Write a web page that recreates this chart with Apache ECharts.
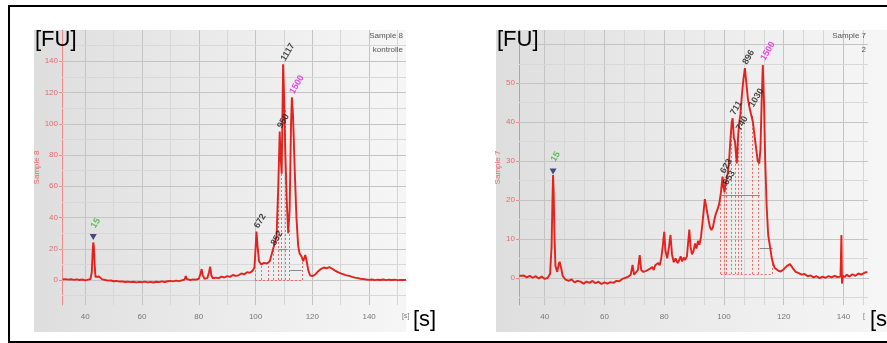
<!DOCTYPE html>
<html>
<head>
<meta charset="utf-8">
<script src="https://cdn.jsdelivr.net/npm/echarts@6/dist/echarts.min.js"></script>
<style>
  html, body { margin: 0; padding: 0; background: #fff; }
  #chart { width: 887px; height: 343px; }
</style>
</head>
<body>
<div id="chart"></div>
<script>
// Sample 8 (kontrolle) trace: [time s, FU]
const sample8Trace = [
  [32,0.3],[33,0.6],[34,0.2],[35,0.5],[36,0.1],[37,0.4],[38,0.0],[39,0.3],[40,-0.2],[41,0.2],
  [41.8,0.5],[42.3,5],[42.6,18],[42.8,24],[43.0,22],[43.3,10],[43.6,2],[44.2,1.2],[44.8,2.2],[45.4,1.0],
  [46,0.4],[47,0.0],[48,-0.4],[49,-0.3],[50,-0.8],[51,-0.6],[52,-1.0],[53,-0.9],[54,-1.3],[55,-1.0],
  [56,-1.4],[57,-1.1],[58,-1.5],[59,-1.2],[60,-1.4],[61,-1.0],[62,-1.5],[63,-1.2],[64,-1.6],[65,-1.1],
  [66,-1.4],[67,-0.9],[68,-1.3],[69,-0.8],[70,-0.6],[71,-0.9],[72,-0.4],[73,-0.7],[74,-0.2],[75,0.3],
  [75.4,2.5],[75.8,0.6],[76.5,0.3],[77,0.0],[78,0.4],[79,0.2],[80,0.8],[80.6,4],[81.0,7],[81.4,3],
  [82,0.8],[83,1.2],[83.6,5],[84.0,8.5],[84.4,3],[85,1.0],[86,1.5],[87,1.2],[88,2.2],[89,1.6],
  [90,2.5],[91,2.0],[92,3.2],[93,2.6],[94,3.0],[95,4.2],[96,3.6],[97,5.0],[98,4.6],[99,6.0],
  [99.6,8],[100.0,20],[100.3,31],[100.7,22],[101.2,12],[102,10],[103,11],[104,10.5],[105,12],[105.6,16],
  [106.2,20],[106.8,19],[107.4,28],[108.0,60],[108.5,95],[108.8,80],[109.2,68],[109.5,110],[109.7,138],[110.0,120],
  [110.5,80],[111.0,50],[111.5,30],[112.0,45],[112.5,100],[112.8,117],[113.2,105],[113.8,70],[114.4,40],[115.0,22],
  [115.5,17],[116.2,15],[116.8,12],[117.5,16],[118.0,12],[118.6,6],[119.2,3],[120,2.5],[121,3.5],[122,5.5],
  [123,7],[124,8],[125,7.5],[126,8.2],[127,7.2],[127.5,8.0],[128,6],[129,5],[130,4.2],[131,3.6],
  [132,3],[133,2.6],[134,2],[135,1.5],[136,1.2],[137,0.8],[138,0.6],[139,0.3],[140,0.1],[141,0.3],
  [142,-0.1],[143,0.2],[144,0],[145,0.3],[146,-0.1],[147,0.2],[148,0.0],[149,0.2],[150,-0.1],[151,0.1],
  [152,0.0],[153,0.1]
];

// Sample 7 trace: [time s, FU]
const sample7Trace = [
  [31.5,0.5],[32,0.2],[33,0.6],[34,0.1],[35,0.5],[36,0.0],[37,0.4],[38,-0.2],[39,0.3],[40,-0.3],
  [41,0.0],[41.8,1.0],[42.3,8],[42.6,20],[42.8,26.4],[43.0,22],[43.3,10],[43.6,3],[44.2,1.5],[44.7,3.5],
  [45.0,4.1],[45.5,2.5],[46,0.5],[47,-0.5],[48,-0.8],[49,-0.4],[50,-1.2],[51,-0.8],[52,-1.0],[53,-1.5],
  [54,-1.0],[55,-1.3],[56,-0.8],[57,-1.4],[58,-1.0],[59,-1.6],[60,-1.2],[61,-1.5],[62,-1.1],[63,-1.3],
  [64,-0.8],[65,-0.9],[66,-0.3],[67,0.0],[68,0.3],[68.8,0.8],[69.4,3.3],[69.9,0.8],[70.5,1.2],[71.2,2],
  [71.8,5.8],[72.3,2],[73,1.5],[74,1.8],[75,2.2],[76,2.8],[76.5,2],[77,3.2],[78,3.8],[78.5,3.2],
  [79,5],[79.5,8],[80.0,11.8],[80.4,7],[81,5],[81.6,8],[82.1,11],[82.6,6],[83.2,4],[83.8,5],
  [84.5,3.8],[85,4.5],[85.5,5.5],[86,4.2],[86.5,5.2],[87,4.6],[87.6,5.5],[88.0,9],[88.4,12.4],[88.8,8],
  [89.3,6],[89.8,6.8],[90.3,8.8],[90.8,7.5],[91.3,9.5],[91.8,8.5],[92.3,10.5],[92.8,14],[93.3,18],[93.6,20.2],
  [94.0,18.5],[94.4,19],[94.8,15],[95.3,13],[95.8,12.3],[96.3,13],[96.8,15],[97.3,16.5],[97.8,17.5],[98.4,19],
  [99.0,22],[99.5,26],[99.9,23],[100.2,22],[100.5,24],[100.9,23.5],[101.3,27],[101.7,30],[102.2,36],[102.6,40],
  [102.9,41],[103.3,36],[103.7,35],[104.0,32],[104.3,29.4],[104.7,36],[105.1,40],[105.5,42],[106.0,47],[106.5,51],
  [107.0,53.9],[107.5,50],[108.0,46],[108.6,43.5],[109.2,43.1],[109.7,40],[110.3,36],[110.8,33],[111.3,30],[111.8,29.4],
  [112.2,33],[112.6,45],[113.0,54.7],[113.4,45],[113.8,30],[114.3,18],[114.8,11],[115.4,8],[116.0,5],[116.5,3.5],
  [117,2.5],[117.6,2.0],[118.2,1.8],[119,1.6],[120,2.2],[121,3.0],[122.1,3.5],[123,2.5],[124,1.5],[125,1.2],
  [126,0.8],[127,1.0],[128,0.4],[129,0.6],[130,0.1],[131,0.4],[132,-0.1],[133,0.3],[134,0.0],[135,0.4],
  [136,0.1],[137,0.5],[138,0.2],[139,0.3],[139.3,11],[139.5,-1.5],[139.8,0.5],[140.5,0.2],[141,0.8],[142,0.3],
  [143,0.9],[144,0.5],[145,1.1],[146,0.8],[147,1.3],[148,1.5]
];

// peak annotations
const sample8PeakTime  = [42.8, 100.3, 106.2, 108.5, 109.7, 112.8];
const sample8PeakFu    = [31, 31, 20, 95, 138, 117];
const sample8PeakLabel = ["15", "672", "852", "950", "1117", "1500"];
const sample7PeakTime  = [42.8, 99.5, 100.5, 102.9, 104.8, 107.0, 109.2, 113.0];
const sample7PeakFu    = [29, 26, 23, 41, 37, 54, 43, 55];
const sample7PeakLabel = ["15", "623", "653", "711", "740", "896", "1030", "1500"];
const markerTime = 42.8;
const sample8MarkerFu = 27.6;
const sample7MarkerFu = 27.3;

// peak region boundaries: [time, top FU]
const sample8Regions = [[99.8,8],[102.1,10],[104.4,10.5],[106.2,20],[107.9,55],[109.1,70],[110.3,110],[111.8,32],[116.5,13]];
const sample7Regions = [[98.9,20],[100.1,22],[100.9,24],[102.5,38],[103.7,34],[104.8,37],[105.9,46],[109.3,42],[111.5,30],[116.3,4]];
// baselines: [from, to, FU]
const sample8Baselines = [[108.2,111.2,20],[112.2,116.2,6]];
const sample7Baselines = [[99.2,112,21.3],[112,116.3,7.6]];

// tick labels
const sample8YTicks = [0, 20, 40, 60, 80, 100, 120, 140];
const sample7YTicks = [0, 10, 20, 30, 40, 50];
const timeTicks = [40, 60, 80, 100, 120, 140];

const RED = "#e3221d";
const FONT = "Liberation Sans, Arial, sans-serif";

function range(a, b, step) {
  const out = [];
  for (let v = a; v <= b + 1e-9; v += step) out.push(+v.toFixed(3));
  return out;
}

function gridMarks(xs, ys, majorX, majorY) {
  const data = [];
  xs.forEach(v => data.push({ xAxis: v, lineStyle: { color: v % majorX === 0 ? "#c4c4c4" : "#d6d6d6" } }));
  ys.forEach(v => data.push({ yAxis: v, lineStyle: { color: v % majorY === 0 ? "#c4c4c4" : "#d8d8d8" } }));
  return data;
}

function regionMarks(regions, baselines, base) {
  const data = [];
  regions.forEach(([t, top]) => data.push([{ coord: [t, base] }, { coord: [t, top] }]));
  data.push([{ coord: [regions[0][0], base] }, { coord: [regions[regions.length - 1][0], base] }]);
  baselines.forEach(([a, b, y]) => data.push([
    { coord: [a, y], lineStyle: { color: "#8a8a8a", type: "solid", width: 1 } },
    { coord: [b, y] }
  ]));
  return data;
}

function peakPoints(times, fus, labels) {
  return times.map((t, i) => ({
    value: [t, fus[i]],
    label: {
      formatter: labels[i],
      color: labels[i] === "15" ? "#3cb43c" : labels[i] === "1500" ? "#e020e0" : "#1a1a1a"
    }
  }));
}

function xAxisFor(gi, min, max) {
  return {
    type: "value", gridIndex: gi, min, max,
    splitLine: { show: false },
    axisLine: { lineStyle: { color: "#555", width: 1 } },
    axisTick: { customValues: timeTicks, length: 3, lineStyle: { color: "#777" } },
    axisLabel: { customValues: timeTicks, color: "#777", fontSize: 8, fontFamily: FONT, margin: 8 }
  };
}

function yAxisFor(gi, min, max, ticks, name, gap) {
  return {
    type: "value", gridIndex: gi, min, max,
    name, nameLocation: "middle", nameGap: gap, nameRotate: 90,
    nameTextStyle: { color: "#e86a6a", fontSize: 8, fontFamily: FONT },
    splitLine: { show: false },
    axisLine: { show: true, lineStyle: { color: "#f08a8a", width: 1 } },
    axisTick: { customValues: ticks, length: 3, lineStyle: { color: "#f08a8a" } },
    axisLabel: { customValues: ticks, color: "#e86a6a", fontSize: 8, fontFamily: FONT, margin: 4 }
  };
}

function panelSeries(gi, trace, gridXs, gridYs, majorX, majorY, regions, baselines, base, peaks, markerFu) {
  return [
    {
      type: "line", xAxisIndex: gi, yAxisIndex: gi, data: [], z: 1, silent: true,
      markLine: { silent: true, symbol: "none", label: { show: false }, animation: false,
        lineStyle: { type: "solid", width: 1 }, data: gridMarks(gridXs, gridYs, majorX, majorY) }
    },
    {
      type: "line", xAxisIndex: gi, yAxisIndex: gi, data: [], z: 2, silent: true,
      markLine: { silent: true, symbol: "none", label: { show: false }, animation: false,
        lineStyle: { type: [2, 2], color: "#ec6c6c", width: 1 }, data: regionMarks(regions, baselines, base) }
    },
    {
      type: "line", xAxisIndex: gi, yAxisIndex: gi, data: trace, z: 5,
      showSymbol: false, symbol: "none", smooth: false, animation: false,
      lineStyle: { color: RED, width: 1.9 }
    },
    {
      type: "scatter", xAxisIndex: gi, yAxisIndex: gi, z: 6, animation: false,
      symbolSize: 0, data: peaks,
      label: { show: true, position: "top", distance: 4, rotate: 60, align: "left", verticalAlign: "middle",
        fontSize: 9, fontWeight: "bold", fontFamily: FONT }
    },
    {
      type: "scatter", xAxisIndex: gi, yAxisIndex: gi, z: 7, animation: false,
      symbol: "triangle", symbolRotate: 180, symbolSize: [7, 6],
      itemStyle: { color: "#1c2466" }, data: [[markerTime, markerFu]]
    }
  ];
}

const chart = echarts.init(document.getElementById("chart"), null, { renderer: "canvas" });

const panelBg = (x, w) => ({
  type: "rect", z: -10, silent: true,
  shape: { x, y: 30, width: w, height: 302 },
  style: { fill: new echarts.graphic.LinearGradient(0, 0, 1, 0, [
    { offset: 0, color: "#dedede" }, { offset: 0.5, color: "#ebebeb" }, { offset: 1, color: "#f6f6f6" }
  ]) }
});

const txt = (x, y, text, opts) => ({
  type: "text", z: 20, silent: true, x, y,
  style: Object.assign({ text, fill: "#000", font: "22px " + FONT }, opts || {})
});

chart.setOption({
  backgroundColor: "#fff",
  animation: false,
  grid: [
    { left: 62, top: 30, width: 344, height: 275 },
    { left: 519, top: 30, width: 349, height: 275 }
  ],
  xAxis: [xAxisFor(0, 31.8, 153), xAxisFor(1, 31.4, 148.2)],
  yAxis: [
    yAxisFor(0, -16, 160, sample8YTicks, "Sample 8", 18),
    yAxisFor(1, -7, 63.7, sample7YTicks, "Sample 7", 14)
  ],
  series: [
    ...panelSeries(0, sample8Trace, range(40, 150, 10), range(-10, 150, 10), 20, 20,
      sample8Regions, sample8Baselines, 0,
      peakPoints(sample8PeakTime, sample8PeakFu, sample8PeakLabel), sample8MarkerFu),
    ...panelSeries(1, sample7Trace, range(40, 146.7, 20 / 3), range(-5, 60, 5), 20, 10,
      sample7Regions, sample7Baselines, 1,
      peakPoints(sample7PeakTime, sample7PeakFu, sample7PeakLabel), sample7MarkerFu)
  ],
  graphic: [
    panelBg(34, 372),
    panelBg(496, 391),
    txt(35, 29, "[FU]"),
    txt(497, 29, "[FU]"),
    txt(413, 309, "[s]"),
    txt(870, 309, "[s]"),
    txt(403, 36, "Sample 8", { font: "8px " + FONT, fill: "#555", align: "right", verticalAlign: "middle" }),
    txt(403, 50, "kontrolle", { font: "8px " + FONT, fill: "#555", align: "right", verticalAlign: "middle" }),
    txt(866, 36, "Sample 7", { font: "8px " + FONT, fill: "#555", align: "right", verticalAlign: "middle" }),
    txt(866, 50, "2", { font: "8px " + FONT, fill: "#555", align: "right", verticalAlign: "middle" }),
    txt(402, 316, "[s]", { font: "7px " + FONT, fill: "#777", verticalAlign: "middle" }),
    txt(863, 316, "[", { font: "7px " + FONT, fill: "#777", verticalAlign: "middle" }),
    {
      type: "rect", z: 30, silent: true,
      shape: { x: 9, y: 6, width: 900, height: 336 },
      style: { fill: "none", stroke: "#000", lineWidth: 2 }
    }
  ]
});
</script>
</body>
</html>
